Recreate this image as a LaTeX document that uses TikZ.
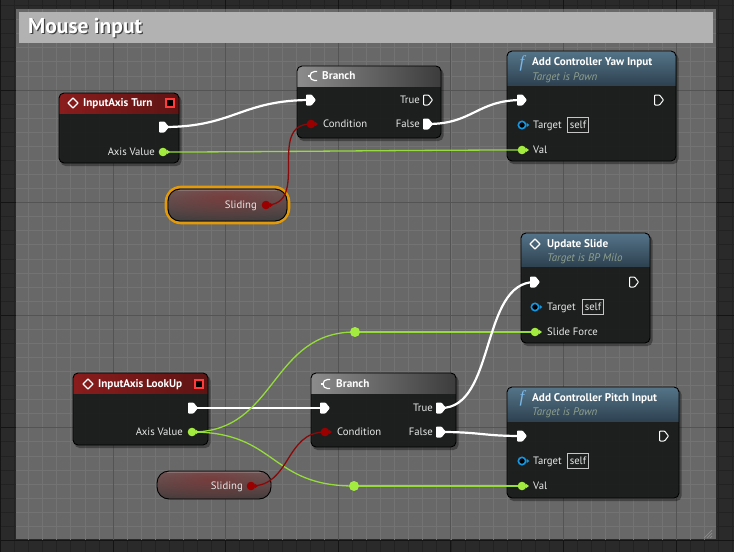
\documentclass[tikz,border=0pt]{standalone}
\usepackage{fontspec}
\setmainfont{PT Sans}
\newfontfamily\fserif{Liberation Serif}
\usetikzlibrary{fit,fadings}
\tikzfading[name=glowfade, inner color=transparent!0, outer color=transparent!100]
\definecolor{bgdark}{HTML}{2A2A2A}
\definecolor{bgminor}{HTML}{222222}
\definecolor{bgmajor}{HTML}{141414}
\definecolor{cbody}{HTML}{686868}
\definecolor{cminor}{HTML}{737373}
\definecolor{cmajor}{HTML}{545454}
\definecolor{titlebar}{HTML}{B2B2B2}
\definecolor{nodebody}{HTML}{1C1E1E}
\definecolor{redL}{HTML}{8A1C1C}
\definecolor{redR}{HTML}{5E1414}
\definecolor{grayL}{HTML}{8C8C8C}
\definecolor{grayR}{HTML}{3C3C3C}
\definecolor{blueT}{HTML}{557489}
\definecolor{blueB}{HTML}{2E4251}
\definecolor{pingreen}{HTML}{A3EC3F}
\definecolor{wiregreen}{HTML}{96DB3C}
\definecolor{pinred}{HTML}{9A0000}
\definecolor{wirered}{HTML}{8A0A0A}
\definecolor{pinblue}{HTML}{1497E0}
\definecolor{subgray}{HTML}{8FA08C}
\definecolor{lblwhite}{HTML}{E8E8E8}
\definecolor{selorange}{HTML}{E39A06}
\definecolor{redsq}{HTML}{FF3B3B}
\definecolor{ficon}{HTML}{7AB8E8}
\definecolor{varTop}{HTML}{666666}
\definecolor{varMid}{HTML}{4E4E4E}
\definecolor{varBot}{HTML}{3E3E3E}
\definecolor{varGlow}{HTML}{8E2424}

\tikzset{
  wireX/.style={white, line width=2.2pt},
  wireG/.style={wiregreen, line width=1.3pt},
  wireR/.style={wirered, line width=1.3pt},
  uebody/.style={inner sep=0pt, outer sep=0pt, rounded corners=5pt, fill=nodebody, fill opacity=0.95},
  hdrtext/.style={anchor=west, text=white, font=\bfseries\fontsize{11.2}{11.2}\selectfont, inner sep=0pt, text height=1.5ex, text depth=0.25ex},
  subtext/.style={anchor=west, text=subgray, font=\itshape\fontsize{11}{11}\selectfont, inner sep=0pt, text height=1.5ex, text depth=0.25ex},
  pinlbl/.style={text=lblwhite, font=\fontsize{10.7}{10.7}\selectfont, inner sep=0pt, text height=1.5ex, text depth=0.25ex},
  selfbox/.style={draw=lblwhite!85!black, line width=0.6pt, text=lblwhite, font=\fontsize{10.7}{10.7}\selectfont, inner xsep=2.5pt, inner ysep=0pt, minimum height=15pt, text height=1.5ex, text depth=0.25ex, anchor=west},
  redhead/.style={left color=redL, right color=redR},
  grayhead/.style={left color=grayL, right color=grayR},
  bluehead/.style={top color=blueT, bottom color=blueB},
  execF/.pic={\fill[white, rounded corners=0.8pt] (-5,-5.5) -- (0.5,-5.5) -- (5,0) -- (0.5,5.5) -- (-5,5.5) -- cycle;},
  execH/.pic={\draw[white, line width=1pt, rounded corners=0.8pt, line join=round] (-4.5,-5) -- (0.5,-5) -- (4.5,0) -- (0.5,5) -- (-4.5,5) -- cycle;},
  dataG/.pic={\fill[pingreen] (0,0) circle (4.3); \fill[pingreen] (4,-2.2) -- (7,0) -- (4,2.2) -- cycle;},
  dataR/.pic={\fill[pinred] (0,0) circle (4.3); \fill[pinred] (4,-2.2) -- (7,0) -- (4,2.2) -- cycle;},
  tgtpin/.pic={\draw[pinblue, line width=1.6pt, fill=black] (0,0) circle (3.7); \fill[pinblue] (4.6,-2.2) -- (7.3,0) -- (4.6,2.2) -- cycle;},
  knotpin/.pic={\fill[pingreen] (0,0) circle (5);},
  evicon/.pic={\draw[white, line width=1.3pt, line join=round] (-5,0) -- (0,-5) -- (5,0) -- (0,5) -- cycle;},
  bricon/.pic={\draw[white, line width=1.2pt] (4,-4.5) -- (1.5,-4.5) arc[start angle=-90, end angle=-270, radius=4.5] -- (4,4.5); \draw[white, line width=1.2pt] (-5.5,0) -- (-3.5,0);},
  redsqr/.pic={\draw[redsq, line width=1.3pt, fill=black] (-4,-4) rectangle (4,4);},
}

\newcommand\uenode[7]{%
  \fill[black, opacity=0.35, rounded corners=5pt] (#2+1.5,#3+2.5) rectangle (#4+2.5,#5+3);
  \node[uebody, fit={(#2,#3) (#4,#5)}] (#1) {};
  \begin{scope}
    \clip[rounded corners=5pt] (#2,#3) rectangle (#4,#5);
    \fill[#7] (#2,#3) rectangle (#4,#3+#6);
  \end{scope}
  \draw[black, line width=0.9pt, rounded corners=5pt] (#2,#3) rectangle (#4,#5);
}
% name x1 y1 x2 y2 glowcentre-x
\newcommand\varnode[6]{%
  \node[inner sep=0pt, outer sep=0pt, rounded corners=12pt, top color=varTop, middle color=varMid, bottom color=varBot, fit={(#2,#3) (#4,#5)}] (#1) {};
  \begin{scope}
    \clip[rounded corners=12pt] (#2,#3) rectangle (#4,#5);
    \fill[varGlow, path fading=glowfade, opacity=0.55] (#6,#3+8) ellipse (100 and 26);
  \end{scope}
  \draw[black, line width=0.9pt, rounded corners=12pt] (#2,#3) rectangle (#4,#5);
  \draw[white, opacity=0.18, line width=0.8pt] (#2+10,#3+1.6) -- (#4-10,#3+1.6);
}

\begin{document}
\begin{tikzpicture}[x=1pt, y=-1pt]
\useasboundingbox (0,0) rectangle (734,552);
% outer background grid
\fill[bgdark] (0,0) rectangle (734,552);
\foreach \i in {0,...,52} {\draw[bgminor, line width=0.8pt] ({0.5+\i*14.075},0) -- ({0.5+\i*14.075},552);}
\foreach \i in {0,...,39} {\draw[bgminor, line width=0.8pt] (0,{5.55+\i*14.075}) -- (734,{5.55+\i*14.075});}
\foreach \i in {0,...,6} {\draw[bgmajor, line width=1pt] ({0.5+\i*112.6},0) -- ({0.5+\i*112.6},552);}
\foreach \i in {1,...,5} {\draw[bgmajor, line width=1pt] (0,{-22.6+\i*112.6}) -- (734,{-22.6+\i*112.6});}
% comment box
\begin{scope}
  \clip (16,9) rectangle (716,539);
  \fill[cbody] (16,9) rectangle (716,539);
  \foreach \i in {0,...,52} {\draw[cminor, line width=0.8pt] ({0.5+\i*14.075},0) -- ({0.5+\i*14.075},552);}
  \foreach \i in {0,...,39} {\draw[cminor, line width=0.8pt] (0,{5.55+\i*14.075}) -- (734,{5.55+\i*14.075});}
  \foreach \i in {0,...,6} {\draw[cmajor, line width=1pt] ({0.5+\i*112.6},0) -- ({0.5+\i*112.6},552);}
  \foreach \i in {1,...,5} {\draw[cmajor, line width=1pt] (0,{-22.6+\i*112.6}) -- (734,{-22.6+\i*112.6});}
\end{scope}
\node[fill=titlebar, inner sep=0pt, fit={(19,12) (713,43)}] (titlebar) {};
\node[anchor=west, inner sep=0pt, text=black!75, font=\bfseries\fontsize{21.5}{21.5}\selectfont] (titleshadow) at (29.2,29.2) {Mouse input};
\node[anchor=west, inner sep=0pt, text=white, font=\bfseries\fontsize{21.5}{21.5}\selectfont] (title) at (28,28) {Mouse input};
% resize grip
\draw[black!45, line width=0.7pt] (712,530) -- (704,538) (712,533) -- (707,538) (712,536) -- (710,538);

% nodes
\uenode{turn}{59}{93}{179}{163}{20}{redhead}
\uenode{br1}{297}{66}{441}{138}{20}{grayhead}
\uenode{yaw}{507}{51}{676}{161}{34}{bluehead}
\uenode{us}{521}{233}{650}{343}{33}{bluehead}
\uenode{lu}{73}{373}{208}{445}{20}{redhead}
\uenode{br2}{311}{373}{456}{447}{20}{grayhead}
\uenode{pitch}{507}{387}{679}{498}{34}{bluehead}
\node[draw=selorange, line width=2.6pt, rounded corners=15pt, inner sep=0pt, fit={(166,187) (289,223)}] (sl1sel) {};
\varnode{sl1box}{168}{189}{287}{221}{225}
\varnode{sl2box}{157}{471}{271}{499}{210}

% pin coordinates
\coordinate (turnExec) at (164,127);
\coordinate (turnAxis) at (163,152);
\coordinate (br1In) at (311,100);
\coordinate (br1True) at (428,100);
\coordinate (br1Cond) at (311,124);
\coordinate (br1False) at (428,124);
\coordinate (yawIn) at (522,100);
\coordinate (yawOut) at (659,100);
\coordinate (yawTgt) at (522,125);
\coordinate (yawVal) at (522,150);
\coordinate (sl1) at (266,205);
\coordinate (usIn) at (535,282);
\coordinate (usOut) at (634,282);
\coordinate (usTgt) at (535,307);
\coordinate (usForce) at (535,332);
\coordinate (luExec) at (193,408);
\coordinate (luAxis) at (192,432);
\coordinate (br2In) at (325,408);
\coordinate (br2True) at (441,408);
\coordinate (br2Cond) at (325,432);
\coordinate (br2False) at (441,432);
\coordinate (sl2) at (251,486);
\coordinate (knotTop) at (355,332);
\coordinate (knotBot) at (354,486);
\coordinate (pitchIn) at (522,436);
\coordinate (pitchOut) at (664,436);
\coordinate (pitchTgt) at (522,461);
\coordinate (pitchVal) at (522,486);

% wires
\draw[wireX] (turnExec) .. controls +(70,0) and +(-70,0) .. (br1In);
\draw[wireG] (turnAxis) .. controls +(100,0) and +(-100,0) .. (yawVal);
\draw[wireR] (sl1) .. controls +(45,0) and +(-45,0) .. (br1Cond);
\draw[wireX] (br1False) .. controls +(45,0) and +(-45,0) .. (yawIn);
\draw[wireX] (luExec) -- (br2In);
\draw[wireG] (luAxis) .. controls +(85,0) and +(-85,0) .. (knotTop);
\draw[wireG] (knotTop) -- (usForce);
\draw[wireG] (luAxis) .. controls +(85,0) and +(-85,0) .. (knotBot);
\draw[wireG] (knotBot) -- (pitchVal);
\draw[wireR] (sl2) .. controls +(40,0) and +(-40,0) .. (br2Cond);
\draw[wireX] (br2True) .. controls +(55,0) and +(-55,0) .. (usIn);
\draw[wireX] (br2False) .. controls +(40,0) and +(-40,0) .. (pitchIn);

% pins
\pic at (turnExec) {execF};
\pic at (turnAxis) {dataG};
\pic at (br1In) {execF};
\pic at (br1True) {execH};
\pic at (br1Cond) {dataR};
\pic at (br1False) {execF};
\pic at (yawIn) {execF};
\pic at (yawOut) {execH};
\pic at (yawTgt) {tgtpin};
\pic at (yawVal) {dataG};
\pic at (sl1) {dataR};
\pic at (usIn) {execF};
\pic at (usOut) {execH};
\pic at (usTgt) {tgtpin};
\pic at (usForce) {dataG};
\pic at (luExec) {execF};
\pic at (luAxis) {dataG};
\pic at (br2In) {execF};
\pic at (br2True) {execF};
\pic at (br2Cond) {dataR};
\pic at (br2False) {execF};
\pic at (sl2) {dataR};
\pic at (knotTop) {knotpin};
\pic at (knotBot) {knotpin};
\pic at (pitchIn) {execF};
\pic at (pitchOut) {execH};
\pic at (pitchTgt) {tgtpin};
\pic at (pitchVal) {dataG};

% headers
\pic at (73,103) {evicon};
\node[hdrtext] (turnT) at (83,103) {InputAxis Turn};
\pic at (170,103) {redsqr};
\pic at (313,76) {bricon};
\node[hdrtext] (br1T) at (322,76) {Branch};
\node[anchor=center, inner sep=0pt, text=ficon, font=\fserif\itshape\fontsize{17}{17}\selectfont] (yawF) at (522,63) {f};
\node[hdrtext] (yawT) at (532,62.5) {Add Controller Yaw Input};
\node[subtext] (yawS) at (532,77) {Target is Pawn};
\pic at (535,244) {evicon};
\node[hdrtext] (usT) at (547,244) {Update Slide};
\node[subtext] (usS) at (547,258) {Target is BP Milo};
\pic at (88,384) {evicon};
\node[hdrtext] (luT) at (98,384) {InputAxis LookUp};
\pic at (199,384) {redsqr};
\pic at (326,384) {bricon};
\node[hdrtext] (br2T) at (336,384) {Branch};
\node[anchor=center, inner sep=0pt, text=ficon, font=\fserif\itshape\fontsize{17}{17}\selectfont] (pitchF) at (522,398) {f};
\node[hdrtext] (pitchT) at (532,398) {Add Controller Pitch Input};
\node[subtext] (pitchS) at (532,412) {Target is Pawn};

% pin labels
\node[pinlbl, anchor=east] (turnAxisL) at (155,152) {Axis Value};
\node[pinlbl, anchor=east] (br1TrueL) at (420,100) {True};
\node[pinlbl, anchor=west] (br1CondL) at (323,124) {Condition};
\node[pinlbl, anchor=east] (br1FalseL) at (420,124) {False};
\node[pinlbl, anchor=west] (yawTgtL) at (533,125) {Target};
\node[selfbox] (yawSelf) at (567,125) {self};
\node[pinlbl, anchor=west] (yawValL) at (533,150) {Val};
\node[pinlbl, anchor=east] (sl1L) at (257,205) {Sliding};
\node[pinlbl, anchor=west] (usTgtL) at (547,307) {Target};
\node[selfbox] (usSelf) at (582,307) {self};
\node[pinlbl, anchor=west] (usForceL) at (547,332) {Slide Force};
\node[pinlbl, anchor=east] (luAxisL) at (183,432) {Axis Value};
\node[pinlbl, anchor=east] (br2TrueL) at (433,408) {True};
\node[pinlbl, anchor=west] (br2CondL) at (337,432) {Condition};
\node[pinlbl, anchor=east] (br2FalseL) at (433,432) {False};
\node[pinlbl, anchor=east] (sl2L) at (243,486) {Sliding};
\node[pinlbl, anchor=west] (pitchTgtL) at (533,461) {Target};
\node[selfbox] (pitchSelf) at (567,461) {self};
\node[pinlbl, anchor=west] (pitchValL) at (533,486) {Val};
\end{tikzpicture}
\end{document}
